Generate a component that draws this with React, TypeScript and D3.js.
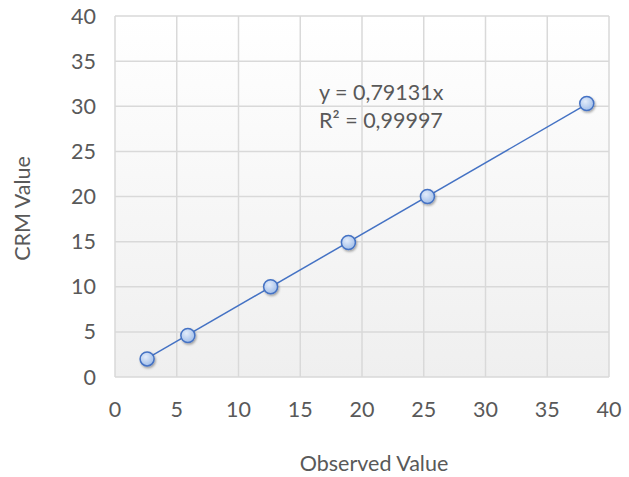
import React from "react";
import * as d3 from "d3";

const observed = [2.6, 5.9, 12.6, 18.9, 25.3, 38.2];
const crm = [2.0, 4.6, 10.0, 14.9, 20.0, 30.3];
const xTicks = [0, 5, 10, 15, 20, 25, 30, 35, 40];
const yTicks = [0, 5, 10, 15, 20, 25, 30, 35, 40];
const slope = 0.79131;
const eqLines = ["y = 0,79131x", "R² = 0,99997"];

export default function App() {
  const W = 629, H = 477;
  const L = 115, R = 609, T = 16, B = 377;
  const x = d3.scaleLinear().domain([0, 40]).range([L, R]);
  const y = d3.scaleLinear().domain([0, 40]).range([B, T]);
  const font = "Lato, 'Open Sans', sans-serif";
  const fs = 21.5;
  const xMin = d3.min(observed)!, xMax = d3.max(observed)!;
  const line = d3.line<number>().x((d) => x(d)).y((d) => y(d * slope));
  return (
    <svg width={W} height={H} style={{ position: "absolute", left: 0, top: 0 }}>
      <defs>
        <linearGradient id="bg" x1="0" y1="0" x2="0" y2="1">
          <stop offset="0" stopColor="#ffffff" />
          <stop offset="1" stopColor="#efefef" />
        </linearGradient>
        <radialGradient id="pt" cx="0.4" cy="0.35" r="0.7">
          <stop offset="0" stopColor="#e3ecfa" />
          <stop offset="1" stopColor="#9dbbe8" />
        </radialGradient>
        <filter id="sh" x="-50%" y="-50%" width="200%" height="200%">
          <feDropShadow dx="1" dy="1.5" stdDeviation="1.2" floodColor="#000" floodOpacity="0.35" />
        </filter>
      </defs>
      <rect x={0} y={0} width={W} height={H} fill="#fff" />
      <rect x={L} y={T} width={R - L} height={B - T} fill="url(#bg)" />
      {xTicks.map((t) => (
        <line key={"gx" + t} x1={x(t)} x2={x(t)} y1={T} y2={B} stroke="#d9d9d9" strokeWidth={1.5} />
      ))}
      {yTicks.map((t) => (
        <line key={"gy" + t} x1={L} x2={R} y1={y(t)} y2={y(t)} stroke="#d9d9d9" strokeWidth={1.5} />
      ))}
      {xTicks.map((t) => (
        <text key={"tx" + t} x={x(t)} y={B + 40} textAnchor="middle" fontFamily={font} fontSize={fs} fill="#595959">
          {t}
        </text>
      ))}
      {yTicks.map((t) => (
        <text key={"ty" + t} x={L - 19} y={y(t) + 7.5} textAnchor="end" fontFamily={font} fontSize={fs} fill="#595959">
          {t}
        </text>
      ))}
      <path d={line([xMin, xMax]) || ""} stroke="#4472c4" strokeWidth={1.5} fill="none" />
      {observed.map((v, i) => (
        <circle key={"p" + i} cx={x(v)} cy={y(crm[i])} r={7} fill="url(#pt)" stroke="#4472c4" strokeWidth={1.5} filter="url(#sh)" />
      ))}
      {eqLines.map((s, i) => (
        <text key={"eq" + i} x={319} y={100 + i * 28} fontFamily={font} fontSize={fs} fill="#595959">
          {s}
        </text>
      ))}
      <text x={(L + R) / 2 + 12} y={471} textAnchor="middle" fontFamily={font} fontSize={fs} fill="#595959">
        Observed Value
      </text>
      <text transform={`translate(30, ${(T + B) / 2 + 12}) rotate(-90)`} textAnchor="middle" fontFamily={font} fontSize={fs} fill="#595959">
        CRM Value
      </text>
    </svg>
  );
}
